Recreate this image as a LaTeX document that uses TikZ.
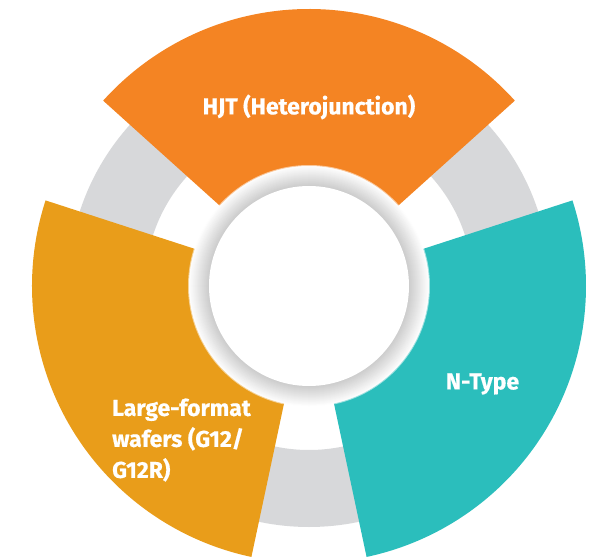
\documentclass[tikz,border=0pt]{standalone}
\usepackage{fontspec}
\setmainfont{Fira Sans}[BoldFeatures={FakeBold=0.6}]
\usepackage{tikz}
\usetikzlibrary{positioning}
\definecolor{hjtorange}{RGB}{244,132,35}
\definecolor{wafergold}{RGB}{233,157,26}
\definecolor{ntypeteal}{RGB}{43,190,188}
\definecolor{ringgray}{RGB}{215,216,218}
\tikzstyle{label text} = [text=white, font=\bfseries\fontsize{23}{31}\selectfont, inner sep=0pt]
\tikzstyle{ring} = [line width=77pt, ringgray]

\begin{document}
\begin{tikzpicture}
            \useasboundingbox (-309pt,-274pt) rectangle (289pt,286pt);
            % Gray ring behind
            \draw [ring] (0,0) circle [radius=202.5pt];
            % Sectors
            \foreach \a/\c in {42/hjtorange, 162/wafergold, 282/ntypeteal}
              \fill [\c] (\a:120pt) -- (\a:277pt) arc [start angle=\a, delta angle=96, radius=277pt]
                -- ({\a+96}:120pt) arc [start angle={\a+96}, delta angle=-96, radius=120pt] -- cycle;
            % Shadow round the hub
            \foreach \i in {0,...,20}
              \fill [black!\i!white, opacity=0.55] (0,0) circle [radius=121pt-\i pt];
            \fill [white] (0,0) circle [radius=100pt];
            % Place nodes
            \node [label text] (hjt) at (0pt,179pt) {HJT (Heterojunction)};
            \node [label text] (ntype) at (173.5pt,-98pt) {N-Type};
            \node [label text, anchor=west, align=left] (wafers) at (-197pt,-154pt) {Large-format\\wafers (G12/\\G12R)};
\end{tikzpicture}
\end{document}
